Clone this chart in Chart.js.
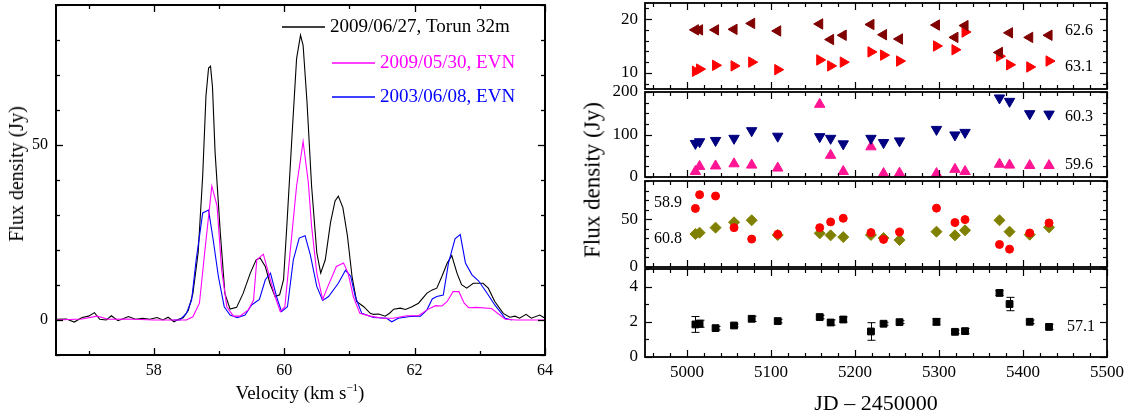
<!DOCTYPE html>
<html><head><meta charset="utf-8">
<script src="https://cdn.jsdelivr.net/npm/chart.js@4.4.1/dist/chart.umd.min.js"></script>
<style>
html,body{margin:0;padding:0;background:#fff;}
#wrap{position:relative;width:1131px;height:417px;overflow:hidden;background:#fff;}
canvas{position:absolute;}
.t{position:absolute;white-space:nowrap;font-family:'Liberation Serif','Times New Roman',serif;color:#000;line-height:1;}
.sup{font-size:11px;position:relative;top:-8px;}
</style></head><body>
<div id="wrap">
<canvas id="spec" width="570" height="417" style="left:0;top:0"></canvas>
<canvas id="p1"></canvas>
<canvas id="p2"></canvas>
<canvas id="p3"></canvas>
<canvas id="p4"></canvas>
<div class="t" style="left:16px;top:174px;font-size:20px;transform:translate(-50%,-50%) rotate(-90deg)">Flux density (Jy)</div>
<div class="t" style="left:300px;top:392px;font-size:19px;transform:translate(-50%,-50%)">Velocity (km s<span class="sup">−1</span>)</div>
<div class="t" style="left:592px;top:180px;font-size:23px;transform:translate(-50%,-50%) rotate(-90deg)">Flux density (Jy)</div>
<div class="t" style="left:876px;top:403px;font-size:22px;transform:translate(-50%,-50%)">JD – 2450000</div>
</div>
<script>
// ================= DATA =================
// Left panel: spectra (velocity km/s, flux density Jy)
const velTorun = [56.50,56.66,56.78,56.90,57.00,57.09,57.17,57.27,57.35,57.45,57.52,57.61,57.72,57.83,57.94,58.05,58.14,58.22,58.31,58.38,58.45,58.53,58.60,58.68,58.75,58.80,58.84,58.87,58.90,58.94,59.02,59.09,59.17,59.27,59.37,59.48,59.57,59.63,59.71,59.78,59.86,59.93,59.99,60.04,60.12,60.19,60.25,60.29,60.35,60.42,60.50,60.56,60.63,60.71,60.78,60.83,60.90,60.97,61.04,61.11,61.22,61.32,61.37,61.45,61.55,61.62,61.68,61.78,61.86,61.96,62.06,62.19,62.27,62.34,62.42,62.50,62.57,62.65,62.72,62.80,62.90,63.05,63.13,63.23,63.36,63.46,63.54,63.61,63.71,63.79,63.92,64.00];
const fluxTorun = [0.2,0.3,-0.6,0.7,1.1,2.1,0.2,0.0,1.2,-0.2,0.3,1.0,0.2,0.5,0.2,0.7,0.0,0.8,-0.5,0.2,0.6,2.8,7.6,19.2,41.2,64.0,72.0,72.5,66.6,47.9,24.9,7.6,3.1,3.6,7.6,13.4,17.2,17.7,15.3,10.5,6.7,7.2,11.5,26.8,52.7,74.7,81.4,78.5,62.2,38.3,19.2,13.4,17.2,27.8,34.0,35.4,32.1,24.0,12.5,5.3,3.8,1.9,1.6,1.7,1.1,2.0,3.1,3.4,3.0,3.8,4.8,7.7,8.6,9.1,12.5,16.3,18.4,13.4,10.1,9.1,10.5,10.5,9.1,5.3,1.9,0.8,1.1,0.5,1.6,0.5,1.4,0.5];
const velEvn2009 = [56.50,56.90,57.13,57.30,57.60,58.00,58.30,58.50,58.60,58.70,58.78,58.89,58.97,59.04,59.12,59.22,59.32,59.45,59.53,59.58,59.68,59.76,59.86,59.94,60.01,60.09,60.19,60.29,60.37,60.42,60.50,60.59,60.67,60.80,60.91,60.98,61.06,61.16,61.32,61.52,61.67,61.88,62.06,62.19,62.32,62.42,62.50,62.59,62.68,62.76,62.83,62.95,63.18,63.39,63.56,64.00];
const fluxEvn2009 = [0,0.3,1.1,0.2,0.3,0,0,0,0.9,4.8,19.2,38.3,32.6,14.4,3.8,1.1,1.1,2.9,5.7,17.2,18.8,13.4,6.7,2.4,3.8,19.2,38.3,51.0,39.3,26.8,13.4,5.9,9.6,15.3,16.3,13.4,6.7,1.9,1.1,0.5,0.5,1.2,1.2,2.9,4.1,4.0,5.3,8.1,8.1,4.8,3.5,3.6,3.3,0.2,0,0];
const velEvn2003 = [58.30,58.40,58.50,58.58,58.65,58.75,58.84,58.91,58.99,59.08,59.17,59.28,59.40,59.50,59.62,59.71,59.79,59.89,59.96,60.05,60.14,60.23,60.32,60.40,60.50,60.59,60.68,60.83,60.94,61.02,61.09,61.19,61.37,61.57,61.65,61.75,61.93,62.09,62.19,62.27,62.34,62.44,62.52,62.62,62.70,62.78,62.88,62.98,63.11,63.23,63.39,63.49];
const fluxEvn2003 = [0,0,1.9,5.7,17.2,30.6,31.4,23.0,12.5,3.8,1.4,0.7,1.4,4.3,5.9,11.5,13.4,6.2,2.4,3.8,17.2,23.4,24.1,18.7,9.6,5.6,6.7,10.5,14.2,12.5,6.7,1.9,0.7,0.5,-0.5,0.5,1.0,1.1,2.9,6.0,6.7,7.1,16.3,23.2,24.4,16.3,12.9,11.2,7.7,4.3,0.5,0];
const specLabels = ['2009/06/27, Torun 32m', '2009/05/30, EVN', '2003/06/08, EVN'];
const specColors = ['#000000', '#ff00ff', '#0000ff'];
const velTicks = [58, 60, 62, 64];
const specYTicks = [0, 50];

// Right panels: light curves (JD - 2450000)
const jd = [5010,5015,5034,5056,5077,5108,5158,5171,5186,5219,5234,5253,5297,5319,5331,5372,5384,5408,5431];
const flux626 = [18.0,18.0,18.0,18.1,19.2,17.8,19.1,16.2,17.0,19.0,17.1,16.3,18.9,16.6,18.8,13.8,17.45,16.6,17.0];
const flux631 = [10.3,10.7,11.4,11.3,12.0,10.6,12.4,11.3,12.0,13.9,13.3,12.2,15.0,14.3,17.6,13.1,11.5,11.1,12.2];
const flux603 = [79,83,86,91,109,96,95,91,78,91,81,85,112,99,105,186,178,149,148];
const flux596 = [13,25,26,31,28,21,171,51,13,71,8,9,8,18,13,30,28,27,27];
const flux589 = [61.3,75.7,74.3,41.2,29.2,34.2,41.2,47.2,51.0,36.0,28.9,36.6,61.6,46.5,49.6,23.6,18.7,35.6,46.1];
const flux608 = [34.5,35.9,41.2,46.8,48.9,33.5,35.2,33.1,31.3,33.5,30.3,28.2,37.0,33.1,38.4,48.9,37.0,33.8,41.5];
const flux571 = [1.85,1.89,1.64,1.79,2.17,2.04,2.27,1.96,2.13,1.45,1.89,1.98,2.00,1.43,1.47,3.64,3.01,2.00,1.71];
const err571 = [0.45,0.2,0.1,0.08,0.15,0.1,0.1,0.15,0.15,0.5,0.08,0.08,0.18,0.1,0.15,0.15,0.38,0.1,0.15];
const jdTicks = [5000, 5100, 5200, 5300, 5400, 5500];
const p1Ticks = [10, 20];
const p2Ticks = [0, 100, 200];
const p3Ticks = [0, 50];
const p4Ticks = [0, 2, 4];
const seriesNames = ['62.6', '63.1', '60.3', '59.6', '58.9', '60.8', '57.1'];

// ================= HELPERS =================
const FONT = "'Liberation Serif', 'Times New Roman', serif";
Chart.defaults.font.family = FONT;
Chart.defaults.color = '#000';
const pts = (xs, ys) => xs.map((x, i) => ({x: x, y: ys[i]}));

function framePlugin(cfg) {
  return {
    id: 'frame',
    afterDraw(chart) {
      const ctx = chart.ctx, a = chart.chartArea, xs = chart.scales.x, ys = chart.scales.y;
      ctx.save();
      ctx.strokeStyle = '#000';
      ctx.lineWidth = cfg.tw;
      const isMaj = (sc, v) => sc.ticks.some(t => Math.abs(t.value - v) < 1e-6);
      const seg = (x1, y1, x2, y2) => { ctx.beginPath(); ctx.moveTo(x1, y1); ctx.lineTo(x2, y2); ctx.stroke(); };
      const x0 = Math.ceil(xs.min / cfg.xMinor - 1e-9);
      for (let k = x0; k * cfg.xMinor <= xs.max + 1e-9; k++) {
        const v = k * cfg.xMinor, px = Math.round(xs.getPixelForValue(v)) + 0.5;
        const L = isMaj(xs, v) ? cfg.maj : cfg.min;
        seg(px, a.bottom, px, a.bottom - L);
        seg(px, a.top, px, a.top + L);
      }
      const y0 = Math.ceil(ys.min / cfg.yMinor - 1e-9);
      for (let k = y0; k * cfg.yMinor <= ys.max + 1e-9; k++) {
        const v = k * cfg.yMinor, py = Math.round(ys.getPixelForValue(v)) + 0.5;
        const L = isMaj(ys, v) ? cfg.maj : cfg.min;
        seg(a.left, py, a.left + L, py);
        seg(a.right, py, a.right - L, py);
      }
      ctx.lineWidth = cfg.fw;
      ctx.strokeRect(a.left, a.top, a.right - a.left, a.bottom - a.top);
      ctx.restore();
    }
  };
}

function specLegendPlugin(rows) {
  return {
    id: 'specLegend',
    afterDraw(chart) {
      const ctx = chart.ctx;
      ctx.save();
      ctx.font = '19px ' + FONT;
      ctx.textBaseline = 'middle';
      ctx.textAlign = 'left';
      rows.forEach((r, i) => {
        const col = specColors[i];
        ctx.strokeStyle = col;
        ctx.lineWidth = 1.5;
        ctx.beginPath(); ctx.moveTo(r.x1, r.y); ctx.lineTo(r.x2, r.y); ctx.stroke();
        ctx.fillStyle = col;
        ctx.fillText(specLabels[i], r.tx, r.y);
      });
      ctx.restore();
    }
  };
}

function textPlugin(items) {
  return {
    id: 'seriesText',
    afterDraw(chart) {
      const ctx = chart.ctx, a = chart.chartArea;
      ctx.save();
      ctx.font = '16px ' + FONT;
      ctx.fillStyle = '#000';
      ctx.textBaseline = 'middle';
      items.forEach(it => {
        if (it.side === 'right') { ctx.textAlign = 'right'; ctx.fillText(it.text, a.right - it.dx, a.top + it.dy); }
        else { ctx.textAlign = 'left'; ctx.fillText(it.text, a.left + it.dx, a.top + it.dy); }
      });
      ctx.restore();
    }
  };
}

function errPlugin(xv, yv, ev) {
  return {
    id: 'errbars',
    beforeDatasetsDraw(chart) {
      const ctx = chart.ctx, xs = chart.scales.x, ys = chart.scales.y;
      ctx.save(); ctx.strokeStyle = '#000'; ctx.lineWidth = 1;
      xv.forEach((x, i) => {
        const px = Math.round(xs.getPixelForValue(x)) + 0.5;
        const y1 = ys.getPixelForValue(yv[i] - ev[i]);
        const y2 = ys.getPixelForValue(yv[i] + ev[i]);
        ctx.beginPath();
        ctx.moveTo(px, y1); ctx.lineTo(px, y2);
        ctx.moveTo(px - 4, y1); ctx.lineTo(px + 4, y1);
        ctx.moveTo(px - 4, y2); ctx.lineTo(px + 4, y2);
        ctx.stroke();
      });
      ctx.restore();
    }
  };
}

const fixPad = s => { s.paddingTop = 0; s.paddingBottom = 0; s.paddingLeft = 0; s.paddingRight = 0; };
const fmt = v => String(v);

// ================= LEFT: SPECTRA =================
new Chart(document.getElementById('spec'), {
  type: 'line',
  data: {
    datasets: [
      {label: specLabels[0], data: pts(velTorun, fluxTorun), borderColor: specColors[0], borderWidth: 1.1, pointRadius: 0, tension: 0, order: 2},
      {label: specLabels[1], data: pts(velEvn2009, fluxEvn2009), borderColor: specColors[1], borderWidth: 1.1, pointRadius: 0, tension: 0, order: 0},
      {label: specLabels[2], data: pts(velEvn2003, fluxEvn2003), borderColor: specColors[2], borderWidth: 1.1, pointRadius: 0, tension: 0, order: 1}
    ]
  },
  options: {
    responsive: false, animation: false, devicePixelRatio: 1, events: [],
    layout: {padding: {left: 0, right: 25, top: 5, bottom: 0}, autoPadding: false},
    plugins: {legend: {display: false}, tooltip: {enabled: false}},
    scales: {
      x: {type: 'linear', min: 56.5, max: 64,
        afterBuildTicks: s => { s.ticks = velTicks.map(v => ({value: v})); },
        afterFit: s => { s.height = 62; fixPad(s); },
        grid: {display: false, drawTicks: false}, border: {display: false},
        ticks: {padding: 6, color: '#000', font: {size: 16}, callback: fmt, maxRotation: 0}},
      y: {type: 'linear', min: -10, max: 90,
        afterBuildTicks: s => { s.ticks = specYTicks.map(v => ({value: v})); },
        afterFit: s => { s.width = 56; fixPad(s); },
        grid: {display: false, drawTicks: false}, border: {display: false},
        ticks: {padding: 8, color: '#000', font: {size: 16}, callback: fmt}}
    }
  },
  plugins: [
    framePlugin({xMinor: 1, yMinor: 10, maj: 7, min: 4, tw: 1.3, fw: 2}),
    specLegendPlugin([
      {x1: 282, x2: 325, y: 27, tx: 330},
      {x1: 332, x2: 375, y: 63, tx: 380},
      {x1: 332, x2: 375, y: 97, tx: 380}
    ])
  ]
});

// ================= RIGHT: LIGHT CURVES =================
function panel(id, T, B, ymin, ymax, yTicks, yMinor, datasets, showX, extraPlugins) {
  const cv = document.getElementById(id);
  const padTop = Math.min(12, T);
  const xH = showX ? 60 : 0;
  const padBottom = showX ? 0 : 12;
  const H = padTop + (B - T) + xH + padBottom;
  cv.width = 551; cv.height = H;
  cv.style.left = '580px'; cv.style.top = (T - padTop) + 'px';
  new Chart(cv, {
    type: 'scatter',
    data: {datasets: datasets},
    options: {
      responsive: false, animation: false, devicePixelRatio: 1, events: [],
      layout: {padding: {left: 0, right: 24, top: padTop, bottom: padBottom}, autoPadding: false},
      plugins: {legend: {display: false}, tooltip: {enabled: false}},
      scales: {
        x: {type: 'linear', min: 4950, max: 5500,
          afterBuildTicks: s => { s.ticks = jdTicks.map(v => ({value: v})); },
          afterFit: s => { s.height = xH; fixPad(s); },
          grid: {display: false, drawTicks: false}, border: {display: false},
          ticks: {display: showX, padding: 5, color: '#000', font: {size: 17}, callback: fmt, maxRotation: 0}},
        y: {type: 'linear', min: ymin, max: ymax,
          afterBuildTicks: s => { s.ticks = yTicks.map(v => ({value: v})); },
          afterFit: s => { s.width = 65; fixPad(s); },
          grid: {display: false, drawTicks: false}, border: {display: false},
          ticks: {padding: 7, color: '#000', font: {size: 17}, callback: fmt}}
      }
    },
    plugins: [framePlugin({xMinor: 20, yMinor: yMinor, maj: 7, min: 4, tw: 1.2, fw: 1.8})].concat(extraPlugins)
  });
}

const mk = (label, ys, color, style, rot, r) => ({
  label: label, data: pts(jd, ys), pointStyle: style, rotation: rot, pointRadius: r,
  backgroundColor: color, borderColor: color, borderWidth: 1, showLine: false
});

panel('p1', 3, 89, 7, 23, p1Ticks, 2, [
  mk(seriesNames[0], flux626, '#800000', 'triangle', 270, 6),
  mk(seriesNames[1], flux631, '#ff0000', 'triangle', 90, 6)
], false, [textPlugin([{text: seriesNames[0], side: 'right', dx: 14, dy: 28}, {text: seriesNames[1], side: 'right', dx: 14, dy: 64}])]);

panel('p2', 92, 177, 0, 200, p2Ticks, 25, [
  mk(seriesNames[2], flux603, '#000080', 'triangle', 180, 6),
  mk(seriesNames[3], flux596, '#ff1493', 'triangle', 0, 6)
], false, [textPlugin([{text: seriesNames[2], side: 'right', dx: 14, dy: 25}, {text: seriesNames[3], side: 'right', dx: 14, dy: 73}])]);

panel('p3', 181, 267, 0, 90, p3Ticks, 10, [
  mk(seriesNames[4], flux589, '#ff0000', 'circle', 0, 4),
  mk(seriesNames[5], flux608, '#808000', 'rectRot', 0, 5.5)
], false, [textPlugin([{text: seriesNames[4], side: 'left', dx: 9, dy: 22}, {text: seriesNames[5], side: 'left', dx: 9, dy: 58}])]);

panel('p4', 269, 357, 0, 5, p4Ticks, 1, [
  mk(seriesNames[6], flux571, '#000000', 'rect', 0, 4.8)
], true, [errPlugin(jd, flux571, err571), textPlugin([{text: seriesNames[6], side: 'right', dx: 12, dy: 58}])]);
</script>
</body></html>
